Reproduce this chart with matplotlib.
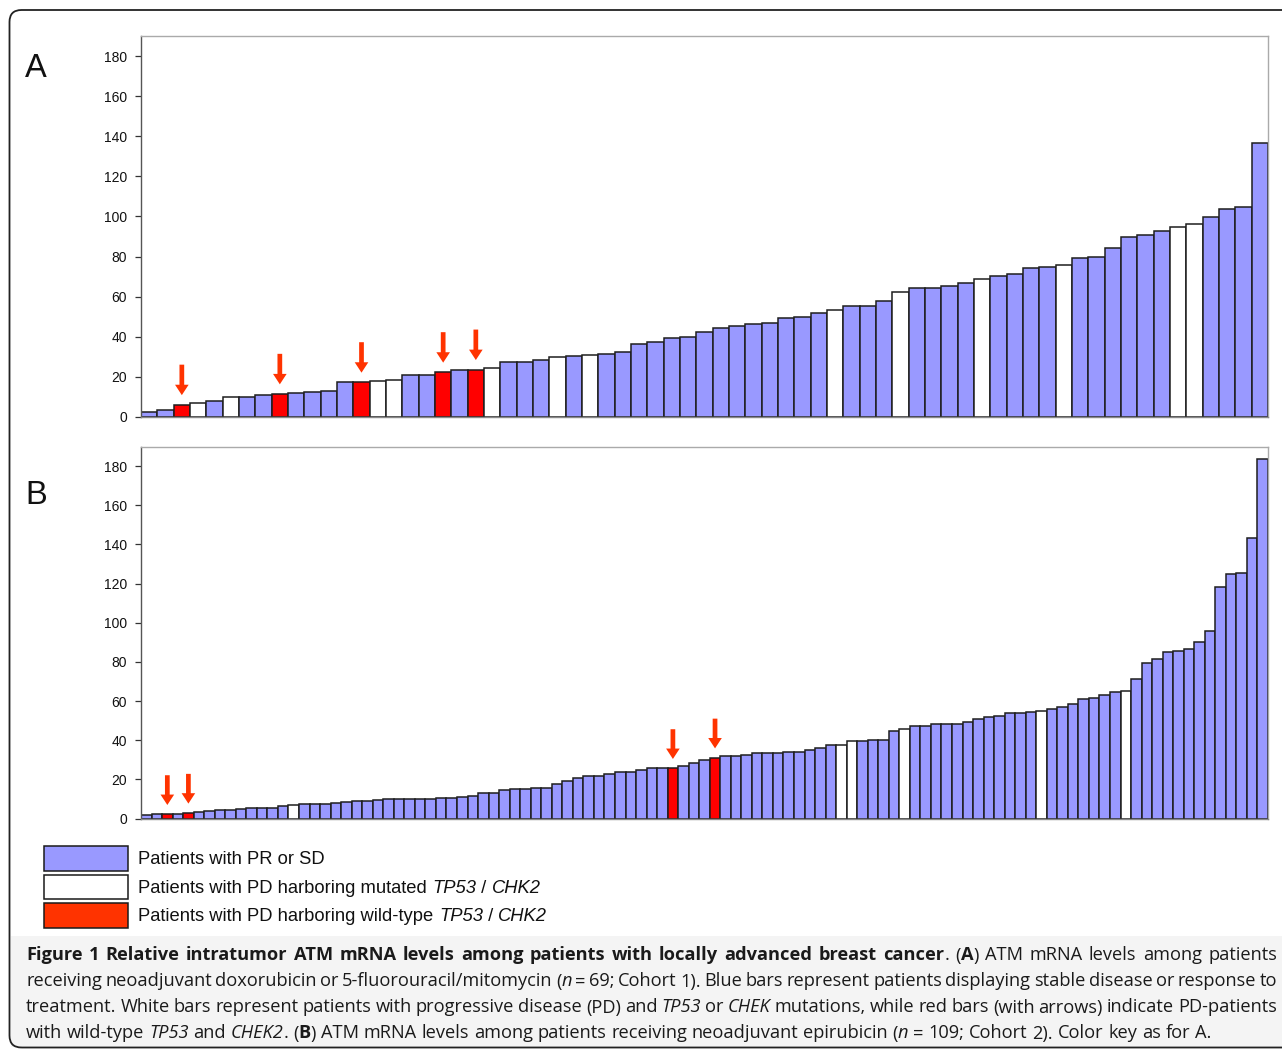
import matplotlib
matplotlib.use("Agg")
import matplotlib.pyplot as plt
from matplotlib.patches import FancyBboxPatch, Rectangle
from matplotlib.transforms import IdentityTransform

W, H = 1282, 1050

# ---------------- data ----------------
# group codes: "S" = PR or SD, "M" = PD with mutated TP53/CHK2, "W" = PD with wild-type TP53/CHK2
a_values = [2.5, 3.3, 6.1, 7.1, 8.1, 9.8, 10.1, 11.0, 11.5, 11.8,
            12.6, 13.1, 17.3, 17.3, 17.8, 18.6, 20.9, 20.9, 22.3, 23.3,
            23.6, 24.6, 27.3, 27.3, 28.4, 29.8, 30.6, 30.9, 31.4, 32.6,
            36.6, 37.6, 39.2, 40.0, 42.5, 44.2, 45.4, 46.4, 47.0, 49.2,
            50.0, 52.0, 53.3, 55.2, 55.2, 57.7, 62.3, 64.1, 64.1, 65.3,
            66.6, 68.8, 70.3, 71.3, 74.4, 74.9, 75.6, 79.4, 79.9, 84.1,
            89.6, 90.7, 92.9, 94.9, 96.4, 99.5, 103.5, 104.5, 136.7]
a_groups = ["S", "S", "W", "M", "S", "M", "S", "S", "W", "S",
            "S", "S", "S", "W", "M", "M", "S", "S", "W", "S",
            "W", "M", "S", "S", "S", "M", "S", "M", "S", "S",
            "S", "S", "S", "S", "S", "S", "S", "S", "S", "S",
            "S", "S", "M", "S", "S", "S", "M", "S", "S", "S",
            "S", "M", "S", "S", "S", "S", "M", "S", "S", "S",
            "S", "S", "S", "M", "M", "S", "S", "S", "S"]

b_values = [1.8, 2.1, 2.1, 2.1, 2.8, 3.2, 3.8, 4.5, 4.5, 4.8,
            5.2, 5.5, 5.5, 6.2, 6.9, 7.2, 7.6, 7.6, 8.1, 8.6,
            8.9, 8.9, 9.4, 9.8, 9.8, 10.1, 10.1, 10.1, 10.3, 10.3,
            11.0, 11.5, 12.8, 13.2, 14.4, 15.0, 15.0, 15.7, 15.7, 17.6,
            19.3, 20.5, 21.5, 21.5, 22.7, 23.6, 23.9, 24.9, 25.6, 25.6,
            25.6, 26.9, 28.3, 30.0, 31.0, 32.0, 32.0, 32.6, 33.6, 33.6,
            33.6, 34.1, 34.1, 35.1, 36.1, 37.5, 37.5, 39.7, 39.7, 40.1,
            40.1, 44.8, 45.5, 47.2, 47.2, 48.4, 48.4, 48.4, 49.4, 50.9,
            51.8, 52.5, 54.0, 54.0, 54.3, 54.9, 55.8, 57.2, 58.3, 60.8,
            61.8, 63.3, 64.4, 65.2, 71.0, 79.3, 81.7, 85.1, 85.5, 86.5,
            89.9, 96.0, 118.3, 124.9, 125.6, 143.1, 183.6]
b_groups = ["S", "S", "W", "S", "W", "S", "S", "S", "S", "S",
            "S", "S", "S", "S", "M", "S", "S", "S", "S", "S",
            "S", "S", "S", "S", "S", "S", "S", "S", "S", "S",
            "S", "S", "S", "S", "S", "S", "S", "S", "S", "S",
            "S", "S", "S", "S", "S", "S", "S", "S", "S", "S",
            "W", "S", "S", "S", "W", "S", "S", "S", "S", "S",
            "S", "S", "S", "S", "S", "S", "M", "M", "S", "S",
            "S", "S", "M", "S", "S", "S", "S", "S", "S", "S",
            "S", "S", "S", "S", "S", "M", "S", "S", "S", "S",
            "S", "S", "S", "M", "S", "S", "S", "S", "S", "S",
            "S", "S", "S", "S", "S", "S", "S"]

y_ticks = [0, 20, 40, 60, 80, 100, 120, 140, 160, 180]
panel_labels = ["A", "B"]
legend_keys = ["S", "M", "W"]
legend_texts = [
    [("Patients with PR or SD", "normal")],
    [("Patients with PD harboring mutated ", "normal"), ("TP53", "italic"), (" / ", "normal"), ("CHK2", "italic")],
    [("Patients with PD harboring wild-type ", "normal"), ("TP53", "italic"), (" / ", "normal"), ("CHK2", "italic")],
]

caption_lines = [
    [("Figure 1 Relative intratumor ATM mRNA levels among patients with locally advanced breast cancer", "b"),
     (". (", "r"), ("A", "b"), (") ATM mRNA levels among patients", "r")],
    [("receiving neoadjuvant doxorubicin or 5-fluorouracil/mitomycin (", "r"), ("n", "i"),
     (" = 69; Cohort 1). Blue bars represent patients displaying stable disease or response to", "r")],
    [("treatment. White bars represent patients with progressive disease (PD) and ", "r"), ("TP53", "i"),
     (" or ", "r"), ("CHEK", "i"), (" mutations, while red bars (with arrows) indicate PD-patients", "r")],
    [("with wild-type ", "r"), ("TP53", "i"), (" and ", "r"), ("CHEK2", "i"), (". (", "r"), ("B", "b"),
     (") ATM mRNA levels among patients receiving neoadjuvant epirubicin (", "r"), ("n", "i"),
     (" = 109; Cohort 2). Color key as for A.", "r")],
]

# ---------------- styles ----------------
bar_colors = {"S": "#9999ff", "M": "#ffffff", "W": "#ff0000"}
legend_colors = {"S": "#9999ff", "M": "#ffffff", "W": "#ff3300"}
arrow_color = "#ff3300"
edge_color = "#1e1e1e"
sans = "Liberation Sans"
cap_font = "Open Sans"


def px_axes(x0, y0, x1, y1):
    return [x0 / W, 1 - y1 / H, (x1 - x0) / W, (y1 - y0) / H]


fig = plt.figure(figsize=(W / 100, H / 100), dpi=100)
fig.patch.set_facecolor("white")

# outer rounded frame
frame = FancyBboxPatch((9.5, 2.5), 1320, 1037.5, boxstyle="round,pad=0,rounding_size=12",
                       transform=IdentityTransform(), fill=False, lw=1.3, ec="#222222")
fig.add_artist(frame)
# caption background
capbg = Rectangle((10.5, 3), 1300, 1050 - 936 - 3, transform=IdentityTransform(),
                  facecolor="#f4f4f4", edgecolor="none", zorder=0)
fig.add_artist(capbg)


def draw_panel(ax, values, groups, label, label_y):
    n = len(values)
    x = list(range(n))
    cols = [bar_colors[g] for g in groups]
    ax.bar(x, values, width=1.0, color=cols, edgecolor=edge_color, linewidth=1.1, zorder=2)
    ax.set_xlim(-0.5, n - 0.5)
    ax.set_ylim(0, 190)
    ax.set_xticks([])
    ax.set_yticks(y_ticks)
    ax.set_yticklabels([str(t) for t in y_ticks], fontfamily=sans, fontsize=10, color="#111111")
    ax.tick_params(axis="y", length=4, width=0.9, color="#333333", pad=6)
    ax.spines["left"].set_color("#555555")
    ax.spines["bottom"].set_color("#888888")
    ax.spines["top"].set_color("#aaaaaa")
    ax.spines["right"].set_color("#aaaaaa")
    for s in ax.spines.values():
        s.set_linewidth(1.0)
    # arrows over wild-type PD bars
    for i, (v, g) in enumerate(zip(values, groups)):
        if g == "W":
            ax.annotate("", xy=(i, v + 4.8), xytext=(i, v + 20.0),
                        arrowprops=dict(facecolor=arrow_color, edgecolor="none",
                                        width=3.4, headwidth=9.8, headlength=7.5, shrink=0),
                        zorder=5)
    fig.text(25 / W, 1 - label_y / H, label, fontfamily=sans, fontsize=23.5,
             ha="left", va="baseline", color="#111111")


axA = fig.add_axes(px_axes(141, 36, 1268, 417))
draw_panel(axA, a_values, a_groups, panel_labels[0], 77)
axB = fig.add_axes(px_axes(141, 446.5, 1268, 818.5))
draw_panel(axB, b_values, b_groups, panel_labels[1], 504)

# ---------------- legend ----------------
fig.canvas.draw()
renderer = fig.canvas.get_renderer()

leg_boxes = [(846, 870.5), (874.5, 899), (903, 927.5)]
for key, (ya, yb), parts in zip(legend_keys, leg_boxes, legend_texts):
    r = Rectangle((44 / W, 1 - yb / H), 84 / W, (yb - ya) / H, transform=fig.transFigure,
                  facecolor=legend_colors[key], edgecolor="#1a1a1a", lw=1.1)
    fig.add_artist(r)
    xpos = 138.5
    base = (ya + yb) / 2 + 6.0
    for txt, st in parts:
        t = fig.text(xpos / W, 1 - base / H, txt, fontfamily=sans, fontsize=13.2,
                     style=st, ha="left", va="baseline", color="#111111")
        xpos += t.get_window_extent(renderer).width

# ---------------- caption (justified) ----------------
style_map = {"r": dict(weight="normal", style="normal"),
             "b": dict(weight="bold", style="normal"),
             "i": dict(weight="normal", style="italic")}
cap_size = 13.15
left_x, right_x = 26.0, 1277.0
baselines = [960.5, 986.5, 1012.5, 1038.5]


def tokens_of(line):
    words = [[]]
    for txt, st in line:
        pieces = txt.split(" ")
        for k, p in enumerate(pieces):
            if k > 0:
                words.append([])
            if p:
                words[-1].append((p, st))
    return [w for w in words if w]


def measure(txt, st):
    t = fig.text(0, 0, txt, fontfamily=cap_font, fontsize=cap_size, **style_map[st])
    w = t.get_window_extent(renderer).width
    t.remove()
    return w


space_w = measure("a a", "r") - 2 * measure("a", "r")
for li, line in enumerate(caption_lines):
    words = tokens_of(line)
    widths = [[measure(p, s) for p, s in w] for w in words]
    total = sum(sum(w) for w in widths)
    justify = li < len(caption_lines) - 1
    gap = (right_x - left_x - total) / (len(words) - 1) if justify else space_w
    x = left_x
    for w, ws in zip(words, widths):
        xx = x
        for (p, s), pw in zip(w, ws):
            fig.text(xx / W, 1 - baselines[li] / H, p, fontfamily=cap_font, fontsize=cap_size,
                     ha="left", va="baseline", color="#1a1a1a", **style_map[s])
            xx += pw
        x = xx + gap

fig.savefig("out.png", dpi=100)
